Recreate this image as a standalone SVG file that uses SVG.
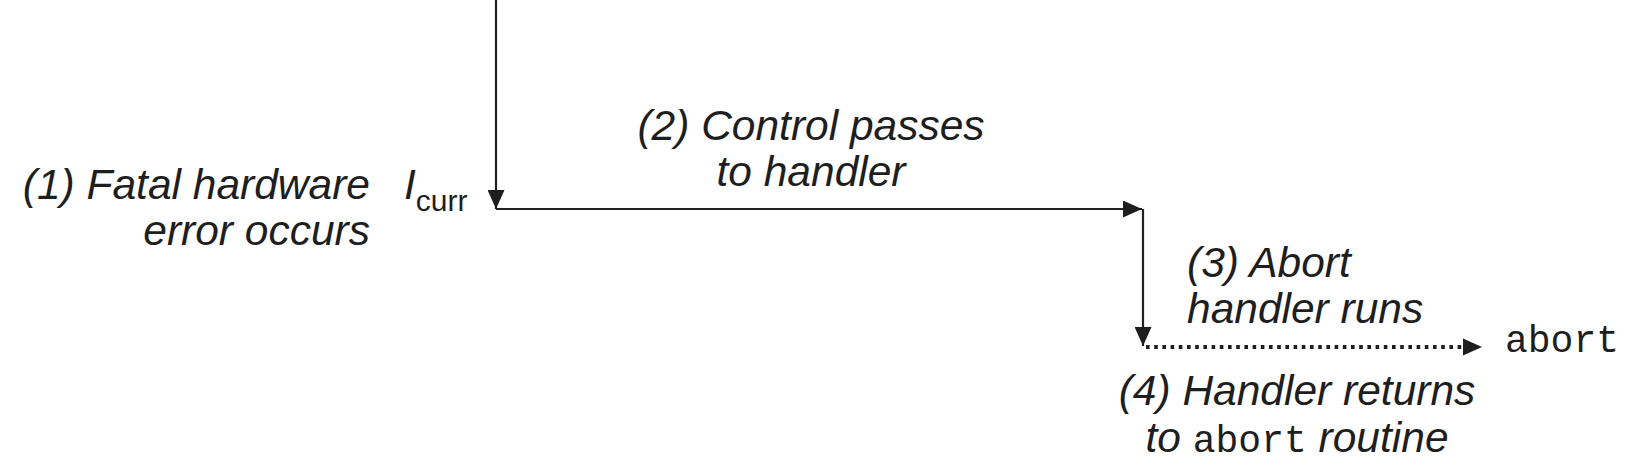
<svg xmlns="http://www.w3.org/2000/svg" width="1627" height="469" viewBox="0 0 1627 469">
<style>
  .lbl { font-family: "Liberation Sans", Arial, sans-serif; font-style: italic; font-size: 42.5px; fill: #1e1e1e; }
  .mono { font-family: "Liberation Mono", "Courier New", monospace; font-style: normal; font-size: 38px; fill: #1e1e1e; }
  .sub { font-family: "Liberation Sans", Arial, sans-serif; font-style: normal; font-size: 30px; fill: #1e1e1e; }
  .edge { stroke: #222; stroke-width: 2.2; fill: none; }
  .dot { stroke: #1e1e1e; stroke-width: 3.8; fill: none; stroke-dasharray: 3.6 4.6; }
</style>
<defs>
  <marker id="arrow" viewBox="0 0 19 17" refX="19" refY="8.5" markerWidth="19" markerHeight="17" markerUnits="userSpaceOnUse" orient="auto">
    <path d="M0,0 L19,8.5 L0,17 Z" fill="#1e1e1e"/>
  </marker>
</defs>
<g id="connectors">
  <path class="edge" d="M496,0 L496,209" marker-end="url(#arrow)"/>
  <path class="edge" d="M496,209 L1142,209" marker-end="url(#arrow)"/>
  <path class="edge" d="M1143,209 L1143,346" marker-end="url(#arrow)"/>
  <path class="dot" d="M1146,347 L1464,347"/>
  <path d="M1463,338.5 L1482,347 L1463,355.5 Z" fill="#1e1e1e"/>
</g>
<g id="step1">
  <text class="lbl" x="370" y="199" text-anchor="end">(1) Fatal hardware</text>
  <text class="lbl" x="370" y="245" text-anchor="end">error occurs</text>
</g>
<g id="icurr">
  <text class="lbl" x="404" y="199">I<tspan class="sub" dy="12">curr</tspan></text>
</g>
<g id="step2">
  <text class="lbl" x="811" y="140" text-anchor="middle">(2) Control passes</text>
  <text class="lbl" x="811" y="186" text-anchor="middle">to handler</text>
</g>
<g id="step3">
  <text class="lbl" x="1187" y="277">(3) Abort</text>
  <text class="lbl" x="1187" y="323">handler runs</text>
</g>
<g id="step4">
  <text class="lbl" x="1297" y="405" text-anchor="middle">(4) Handler returns</text>
  <text class="lbl" x="1297" y="452" text-anchor="middle">to <tspan class="mono">abort</tspan> routine</text>
</g>
<g id="abort">
  <text class="mono" x="1505" y="352">abort</text>
</g>
</svg>
